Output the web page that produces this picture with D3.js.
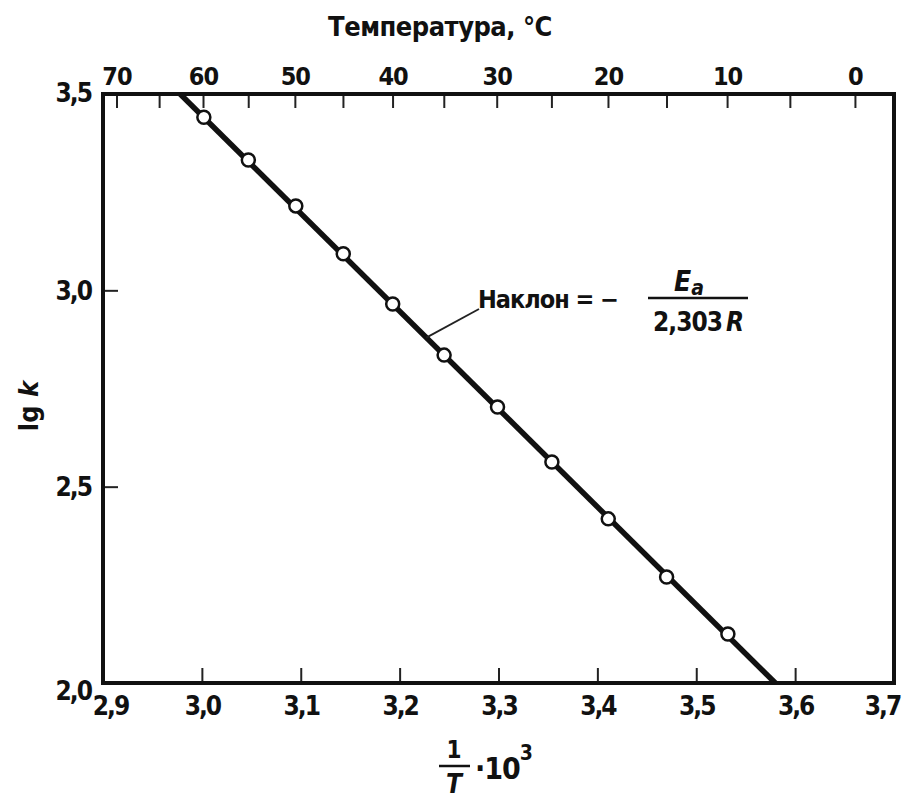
<!DOCTYPE html>
<html>
<head>
<meta charset="utf-8">
<script src="https://cdn.jsdelivr.net/npm/d3@7"></script>
<style>
  body { margin: 0; background: #fff; }
  svg text { font-family: "Liberation Sans Narrow", "DejaVu Sans Condensed", sans-serif; font-weight: bold; fill: #111; }
</style>
</head>
<body>
<svg id="chart" width="903" height="799"></svg>
<script>
// 1/T*10^3 positions of the measured points (temperatures 60..10 C)
var invT = [3.002, 3.047, 3.095, 3.143, 3.193, 3.245, 3.299, 3.354, 3.411, 3.470, 3.532];
// lg k
var lgk = [3.441, 3.332, 3.215, 3.093, 2.965, 2.835, 2.703, 2.563, 2.418, 2.270, 2.125];
// ends of the fitted line
var fitX = [2.978, 3.580];
var fitY = [3.5, 2.0];

var xTicks = [2.9, 3.0, 3.1, 3.2, 3.3, 3.4, 3.5, 3.6, 3.7];
var yTicks = [2.0, 2.5, 3.0, 3.5];
var tempTicks = [70, 65, 60, 55, 50, 45, 40, 35, 30, 25, 20, 15, 10, 5, 0];
var tempLabels = [70, 60, 50, 40, 30, 20, 10, 0];

var svg = d3.select("#chart");

var mLeft = 103, mRight = 894, mTop = 94, mBottom = 683;

var x = d3.scaleLinear().domain([2.9, 3.7]).range([mLeft, mRight]);
var y = d3.scaleLinear().domain([2.0, 3.5]).range([mBottom, mTop]);

function comma(d) { return d3.format(".1f")(d).replace(".", ","); }
function tempX(t) { return x(1000 / (t + 273.15)); }

// bottom axis
var gx = svg.append("g")
  .attr("transform", "translate(0," + mBottom + ")")
  .call(d3.axisBottom(x).tickValues(xTicks).tickSize(-15).tickPadding(14).tickFormat(comma));
gx.select(".domain").remove();
gx.selectAll("line").attr("stroke", "#222").attr("stroke-width", 2);
gx.selectAll("text").style("font-size", "26px").style("letter-spacing", "-2px")
  .attr("dy", "0.71em")
  .attr("dx", function(d, i) { return i == 0 ? 7 : (i == xTicks.length - 1 ? -12 : 0); });

// left axis
var gy = svg.append("g")
  .attr("transform", "translate(" + mLeft + ",0)")
  .call(d3.axisLeft(y).tickValues(yTicks).tickSize(-15).tickPadding(12).tickFormat(comma));
gy.select(".domain").remove();
gy.selectAll("line").attr("stroke", "#222").attr("stroke-width", 2);
gy.selectAll("text").style("font-size", "26px").style("letter-spacing", "-2px")
  .attr("dy", function(d) { return d == 2.0 ? "0.62em" : (d == 3.5 ? "0.3em" : "0.35em"); });

// top temperature axis (non linear, drawn from the x scale)
svg.selectAll(".tempTick")
  .data(tempTicks).enter()
  .append("line")
  .attr("class", "tempTick")
  .attr("x1", tempX).attr("x2", tempX)
  .attr("y1", mTop).attr("y2", mTop + 14)
  .attr("stroke", "#222").attr("stroke-width", 2);

svg.selectAll(".tempLabel")
  .data(tempLabels).enter()
  .append("text")
  .attr("class", "tempLabel")
  .attr("x", tempX)
  .attr("y", mTop - 9)
  .attr("text-anchor", "middle")
  .style("font-size", "25px")
  .style("letter-spacing", "-1px")
  .text(function(d) { return d; });

// frame
svg.append("rect")
  .attr("x", mLeft).attr("y", mTop)
  .attr("width", mRight - mLeft).attr("height", mBottom - mTop)
  .attr("fill", "none").attr("stroke", "#111").attr("stroke-width", 4);

// fitted line
var line = d3.line()
  .x(function(d) { return x(d[0]); })
  .y(function(d) { return y(d[1]); });

svg.append("path")
  .datum(d3.zip(fitX, fitY))
  .attr("d", line)
  .attr("fill", "none")
  .attr("stroke", "#111")
  .attr("stroke-width", 5.5);

// points
svg.selectAll(".pt")
  .data(d3.zip(invT, lgk)).enter()
  .append("circle")
  .attr("class", "pt")
  .attr("cx", function(d) { return x(d[0]); })
  .attr("cy", function(d) { return y(d[1]); })
  .attr("r", 6.5)
  .attr("fill", "#fff")
  .attr("stroke", "#111")
  .attr("stroke-width", 2.5);

// slope annotation
var slope = (fitY[1] - fitY[0]) / (fitX[1] - fitX[0]);
var ax = 3.227, ay = fitY[0] + slope * (ax - fitX[0]);
svg.append("line")
  .attr("x1", x(ax)).attr("y1", y(ay))
  .attr("x2", 479).attr("y2", 309)
  .attr("stroke", "#222").attr("stroke-width", 1.8);

svg.append("text")
  .attr("x", 478).attr("y", 308)
  .style("font-size", "25px")
  .style("letter-spacing", "-1px")
  .text("Наклон = −");

svg.append("text")
  .attr("x", 689).attr("y", 291)
  .attr("text-anchor", "middle")
  .style("font-size", "28px")
  .style("font-style", "italic")
  .text("E")
  .append("tspan")
  .attr("dy", 4)
  .style("font-size", "21px")
  .text("a");

svg.append("line")
  .attr("x1", 648).attr("x2", 748)
  .attr("y1", 298).attr("y2", 298)
  .attr("stroke", "#111").attr("stroke-width", 2.5);

svg.append("text")
  .attr("x", 698).attr("y", 331)
  .attr("text-anchor", "middle")
  .style("font-size", "26px")
  .style("letter-spacing", "-1px")
  .text("2,303")
  .append("tspan")
  .attr("dx", 4)
  .style("font-style", "italic")
  .text("R");

// axis titles
svg.append("text")
  .attr("x", 440).attr("y", 36)
  .attr("text-anchor", "middle")
  .style("font-size", "27px")
  .style("letter-spacing", "-0.5px")
  .text("Температура, °С");

svg.append("text")
  .attr("transform", "translate(38,406) rotate(-90)")
  .attr("text-anchor", "middle")
  .style("font-size", "27px")
  .text("lg ")
  .append("tspan")
  .style("font-style", "italic")
  .text("k");

var xt = svg.append("g");
xt.append("text")
  .attr("x", 454).attr("y", 758)
  .attr("text-anchor", "middle")
  .style("font-size", "24px")
  .text("1");
xt.append("line")
  .attr("x1", 439).attr("x2", 470)
  .attr("y1", 766).attr("y2", 766)
  .attr("stroke", "#111").attr("stroke-width", 2.5);
xt.append("text")
  .attr("x", 454).attr("y", 793)
  .attr("text-anchor", "middle")
  .style("font-size", "26px")
  .style("font-style", "italic")
  .text("T");
xt.append("text")
  .attr("x", 475).attr("y", 779)
  .style("font-size", "30px")
  .style("letter-spacing", "-1px")
  .text("·10")
  .append("tspan")
  .attr("dy", -19)
  .style("font-size", "21px")
  .text("3");
</script>
</body>
</html>
